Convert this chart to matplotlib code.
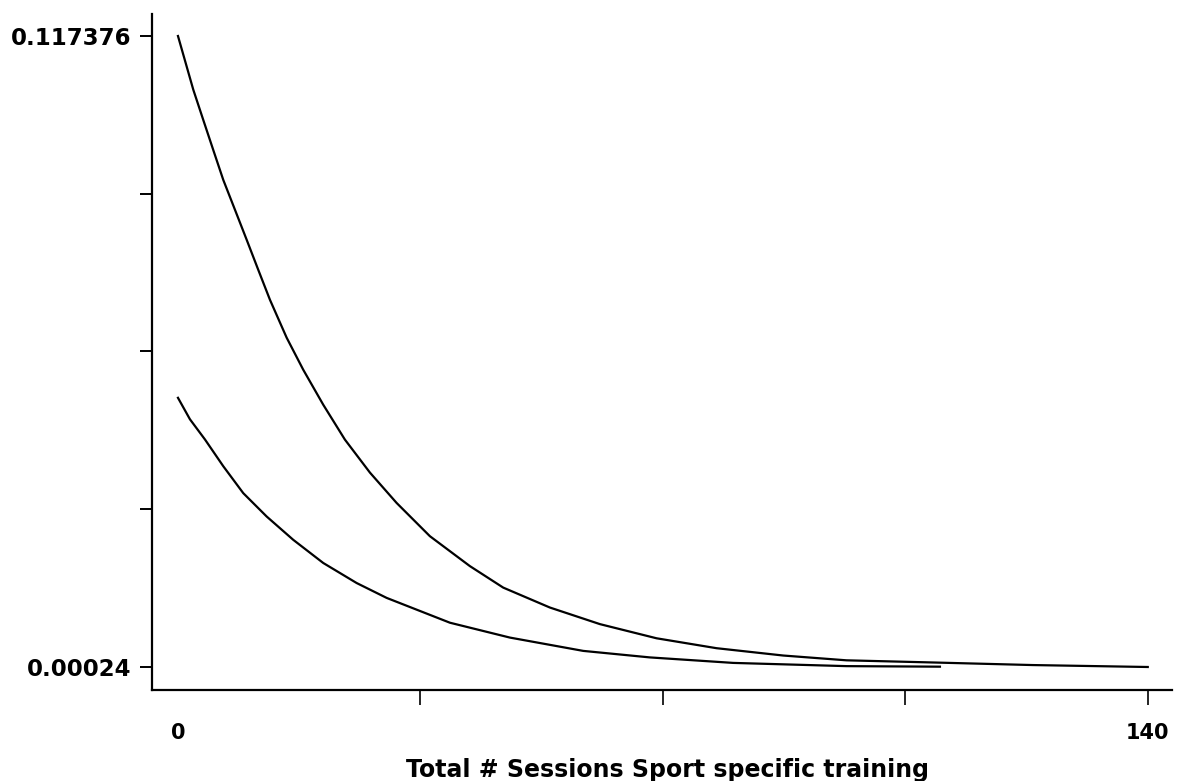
import matplotlib
matplotlib.use("Agg")
import matplotlib.pyplot as plt
import numpy as np

# Predicted probability curves against number of sport-specific training sessions
upper_x = [0, 2.21, 3.65, 5.09, 6.54, 8.23, 9.92, 11.59, 13.28, 15.69, 18.08,
           20.97, 24.1, 27.71, 31.56, 36.37, 42.14, 46.95, 53.69, 60.91,
           69.09, 77.75, 87.37, 96.51, 108.97, 123.4, 140]
upper_y = [0.117376, 0.10741, 0.1018, 0.09623, 0.09066, 0.08511, 0.07954,
           0.07397, 0.0684, 0.06137, 0.05543, 0.04893, 0.04245, 0.03633,
           0.0307, 0.02452, 0.01897, 0.01498, 0.01128, 0.0082, 0.00557,
           0.00373, 0.00237, 0.00148, 0.00108, 0.00060, 0.00024]

lower_x = [0, 1.73, 3.9, 6.54, 9.42, 12.8, 16.64, 20.97, 25.79, 30.12, 39.26,
           47.92, 58.5, 68.12, 80.15, 96.51, 110]
lower_y = [0.05021, 0.04622, 0.04247, 0.03751, 0.03252, 0.02818, 0.02385,
           0.01955, 0.01583, 0.01307, 0.00846, 0.0057, 0.00323, 0.00202,
           0.00100, 0.00040, 0.00030]

y_tick_values = [0.00024, 0.117376]
y_tick_labels = ["0.00024", "0.117376"]
x_tick_values = [0, 140]
x_tick_labels = ["0", "140"]
x_minor_ticks = [35, 70, 105]
x_label = "Total # Sessions Sport specific training"

fig = plt.figure(figsize=(11.82, 7.81), dpi=100)
ax = fig.add_axes([152 / 1182, 1 - 690 / 781, 1020 / 1182, 676 / 781])

ax.plot(upper_x, upper_y, color="black", lw=1.6, solid_joinstyle="round")
ax.plot(lower_x, lower_y, color="black", lw=1.6, solid_joinstyle="round")

ax.set_xlim(-3.75, 143.5)
ax.set_ylim(-0.00403, 0.12146)

for side in ("top", "right"):
    ax.spines[side].set_visible(False)
for side in ("left", "bottom"):
    ax.spines[side].set_linewidth(1.6)

font = dict(family="DejaVu Sans", weight="bold")

ax.set_yticks(y_tick_values)
ax.set_yticklabels(y_tick_labels, fontsize=16.5, **font)
y_minor = np.linspace(y_tick_values[0], y_tick_values[1], 5)[1:-1]
ax.set_yticks(y_minor, minor=True)
ax.tick_params(axis="y", which="both", direction="out", length=9, width=1.4, pad=6)

ax.set_xticks(x_tick_values)
ax.set_xticklabels(x_tick_labels, fontsize=15, **font)
ax.set_xticks(x_minor_ticks, minor=True)
ax.tick_params(axis="x", which="both", direction="out", length=11, width=1.2, pad=13)
ax.xaxis.get_major_ticks()[0].tick1line.set_visible(False)

ax.set_xlabel(x_label, fontsize=17, **font)
ax.xaxis.set_label_coords((668 - 152) / 1020, (690 - 770) / 676)
ax.xaxis.label.set_va("center")

fig.savefig("out.png", dpi=100, facecolor="white")
